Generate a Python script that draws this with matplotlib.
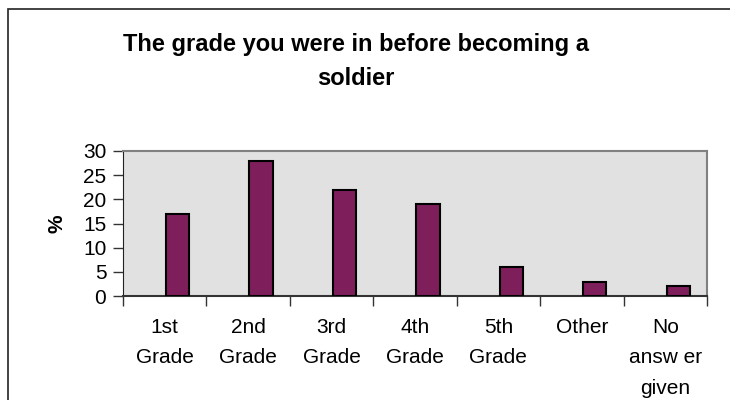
import matplotlib
matplotlib.use('Agg')
import matplotlib.pyplot as plt
from matplotlib.patches import Rectangle
import numpy as np

# survey answers (%)
categories = ['1st\nGrade', '2nd\nGrade', '3rd\nGrade', '4th\nGrade',
              '5th\nGrade', 'Other', 'No\nansw er\ngiven']
percent = [17, 28, 22, 19, 6, 3, 2]

title = 'The grade you were in before becoming a\nsoldier'

plt.rcParams['font.family'] = ['Liberation Sans', 'DejaVu Sans']

fig = plt.figure(figsize=(7.3, 4.0), dpi=100)
ax = fig.add_axes([123 / 730, 1 - 296 / 400, 584 / 730, 145 / 400])

# outer chart border (runs off the right and bottom edges)
fig.patches.append(Rectangle((7.5 / 730, -0.5), 2.0, 1.5 - 8.5 / 400,
                             transform=fig.transFigure, fill=False,
                             edgecolor='#222222', linewidth=1.2))

ax.set_facecolor('#E1E1E1')
index = np.arange(len(percent))
# Excel draws the bar just right of the category centre
ax.bar(index + 0.515, percent, 0.28, align='edge',
       color='#7E1F5C', edgecolor='black', linewidth=1.5, zorder=3)

ax.set_xlim(0, len(percent))
ax.set_ylim(0, 30)
ax.set_yticks(np.arange(0, 31, 5))

# boundary ticks on the x axis, labels at category centres
ax.set_xticks(np.arange(len(percent) + 1))
ax.set_xticklabels([])
ax.set_xticks(index + 0.5, minor=True)
ax.set_xticklabels(categories, minor=True, fontsize=15, linespacing=1.75)
ax.tick_params(axis='x', which='major', direction='out', length=7,
               width=1, color='#333333')
ax.tick_params(axis='x', which='minor', length=0, pad=16)
ax.tick_params(axis='y', direction='out', length=7, width=1,
               color='#333333', labelsize=15, pad=5)

for side in ['top', 'right']:
    ax.spines[side].set_color('#808080')
    ax.spines[side].set_linewidth(1.5)
ax.spines['left'].set_color('#222222')
ax.spines['bottom'].set_color('#333333')
ax.spines['bottom'].set_linewidth(1.5)

ax.set_ylabel('%', fontsize=15, fontweight='bold')
ax.yaxis.set_label_coords(-0.097, 0.5)

fig.text(356 / 730, 1 - 61.5 / 400, title, ha='center', va='center',
         fontsize=17, fontweight='bold', linespacing=1.65)

plt.savefig('out.png', dpi=100)
